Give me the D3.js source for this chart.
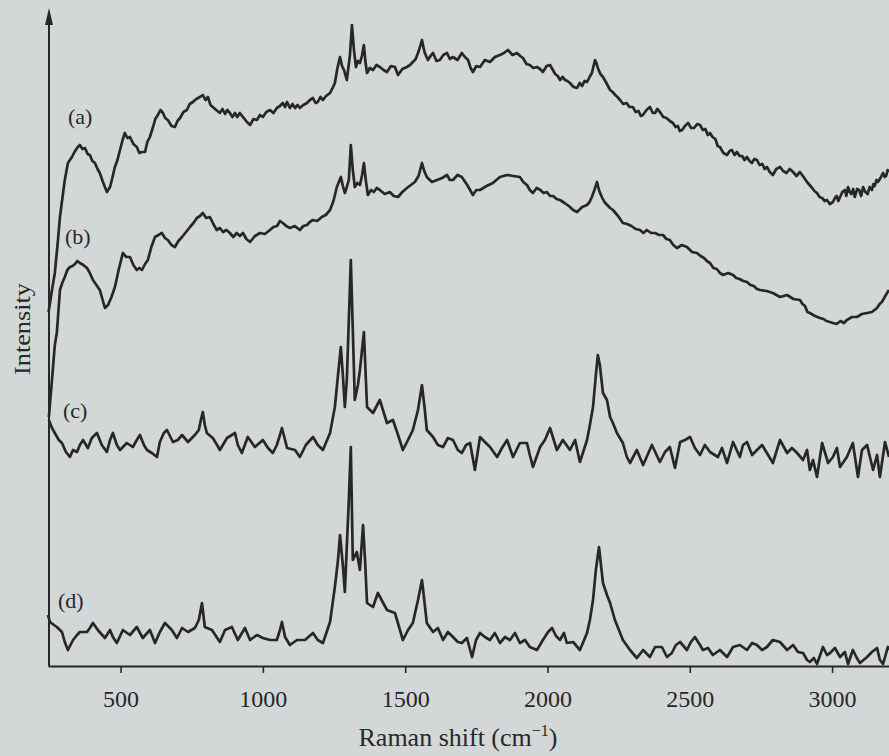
<!DOCTYPE html>
<html><head><meta charset="utf-8">
<script src="https://cdn.jsdelivr.net/npm/d3@7"></script>
<style>html,body{margin:0;padding:0;background:#d4d7d8;}svg{display:block}</style>
</head><body>
<svg id="chart" width="889" height="756"></svg>
<script>
// ---- data ----
const tickValues = [500, 1000, 1500, 2000, 2500, 3000];
const seriesLabels = ["(a)", "(b)", "(c)", "(d)"];
const xTitle = "Raman shift (cm";
const yTitle = "Intensity";

// [Raman shift (cm-1), intensity (arb. units, offset stacked)]
const specA = [[247,354],[259,376],[269,393],[280,426],[287,449],[297,471],[304,486],[315,503],[329,509],[338,514],[347,518],[357,521],[366,517],[375,518],[384,512],[392,511],[401,505],[410,503],[419,497],[427,493],[438,484],[452,474],[463,479],[471,488],[480,499],[489,506],[498,516],[507,526],[515,533],[524,528],[533,529],[545,522],[557,519],[566,513],[575,514],[586,514],[594,524],[603,529],[614,539],[622,547],[631,551],[640,556],[649,553],[657,548],[666,546],[679,540],[691,539],[700,545],[709,548],[721,554],[733,556],[743,562],[754,564],[766,567],[779,569],[789,571],[798,566],[807,569],[816,561],[824,559],[836,556],[849,553],[858,557],[867,552],[875,556],[884,553],[893,549],[902,553],[910,549],[919,553],[930,549],[944,544],[955,541],[967,547],[979,546],[990,551],[1000,549],[1012,554],[1025,556],[1037,553],[1049,558],[1060,560],[1070,563],[1078,559],[1085,564],[1095,558],[1104,562],[1113,558],[1122,561],[1130,558],[1142,561],[1155,563],[1165,566],[1176,568],[1185,563],[1193,564],[1202,569],[1211,566],[1222,570],[1236,573],[1245,578],[1253,583],[1262,598],[1271,609],[1278,600],[1285,596],[1295,586],[1306,611],[1313,641],[1320,616],[1327,599],[1334,605],[1341,603],[1348,610],[1355,621],[1360,605],[1366,593],[1376,598],[1387,596],[1399,601],[1411,599],[1424,596],[1436,594],[1450,600],[1464,599],[1475,591],[1490,597],[1506,599],[1517,601],[1527,604],[1537,607],[1545,613],[1552,619],[1559,626],[1564,619],[1569,613],[1580,606],[1589,610],[1598,613],[1610,605],[1622,606],[1634,611],[1647,613],[1657,607],[1668,609],[1684,606],[1699,613],[1710,609],[1721,606],[1730,598],[1738,594],[1750,600],[1763,599],[1780,606],[1798,604],[1815,609],[1833,611],[1847,613],[1861,616],[1877,611],[1893,613],[1904,610],[1914,608],[1926,602],[1938,601],[1950,598],[1963,599],[1974,597],[1984,594],[1997,600],[2009,601],[2027,592],[2036,590],[2044,586],[2053,589],[2062,586],[2070,585],[2079,583],[2092,579],[2104,578],[2113,583],[2122,580],[2130,585],[2139,584],[2148,589],[2156,593],[2162,600],[2167,606],[2172,603],[2177,598],[2186,592],[2195,589],[2207,583],[2220,576],[2229,574],[2238,571],[2246,569],[2255,566],[2266,562],[2278,563],[2288,559],[2300,559],[2310,554],[2320,555],[2328,550],[2335,551],[2348,556],[2360,559],[2370,553],[2378,553],[2386,557],[2395,554],[2407,549],[2418,548],[2430,545],[2441,543],[2450,539],[2458,540],[2465,535],[2473,536],[2483,540],[2494,543],[2505,538],[2515,538],[2526,542],[2536,541],[2546,536],[2555,537],[2563,531],[2571,533],[2580,529],[2590,527],[2598,520],[2606,519],[2618,513],[2631,511],[2640,515],[2648,516],[2657,511],[2666,514],[2675,510],[2684,510],[2692,506],[2701,509],[2710,505],[2718,503],[2727,507],[2736,506],[2745,501],[2755,502],[2763,497],[2771,499],[2781,494],[2792,491],[2804,497],[2817,499],[2828,495],[2840,493],[2851,497],[2863,494],[2875,490],[2887,494],[2900,489],[2912,484],[2921,481],[2930,478],[2938,475],[2947,473],[2956,469],[2965,468],[2974,465],[2982,466],[2992,462],[3003,464],[3010,468],[3016,470],[3022,465],[3028,469],[3036,474],[3045,476],[3050,470],[3056,479],[3062,474],[3068,472],[3074,477],[3080,469],[3088,477],[3095,476],[3102,470],[3109,479],[3117,474],[3125,472],[3132,479],[3140,476],[3145,482],[3150,480],[3156,486],[3161,484],[3170,488],[3179,493],[3185,489],[3190,490],[3195,496],[3200,494]];

const specB = [[248,249],[259,286],[269,321],[276,333],[287,376],[295,383],[304,389],[313,396],[322,399],[331,400],[340,402],[348,405],[357,403],[369,401],[382,398],[392,393],[403,386],[415,381],[427,376],[436,367],[445,358],[456,361],[468,369],[480,379],[494,397],[508,413],[520,409],[533,409],[545,401],[557,396],[566,398],[575,396],[586,402],[596,406],[608,419],[621,429],[633,431],[645,433],[656,428],[666,426],[679,421],[691,419],[703,425],[716,429],[730,434],[744,439],[756,443],[768,448],[779,450],[789,453],[801,448],[814,449],[826,442],[838,436],[849,438],[860,434],[872,436],[884,433],[896,429],[908,433],[919,430],[930,433],[942,427],[955,424],[972,430],[990,433],[1007,432],[1025,436],[1037,439],[1050,440],[1060,445],[1070,443],[1082,440],[1095,438],[1112,440],[1130,436],[1142,440],[1155,441],[1165,444],[1176,446],[1191,445],[1207,449],[1221,451],[1236,456],[1248,465],[1260,479],[1274,489],[1281,480],[1288,473],[1296,480],[1302,486],[1309,521],[1316,496],[1323,479],[1332,483],[1341,481],[1348,490],[1355,503],[1362,485],[1369,471],[1380,476],[1390,474],[1400,478],[1411,476],[1428,472],[1446,474],[1460,470],[1475,469],[1490,474],[1506,478],[1520,481],[1534,484],[1547,490],[1559,503],[1567,495],[1576,489],[1594,484],[1612,486],[1630,488],[1647,491],[1657,486],[1668,486],[1684,491],[1699,489],[1718,481],[1738,471],[1750,476],[1763,476],[1786,480],[1808,483],[1833,489],[1858,491],[1880,490],[1903,489],[1915,484],[1928,481],[1938,476],[1949,473],[1962,478],[1975,476],[1986,473],[1998,474],[2009,470],[2020,470],[2032,467],[2044,466],[2060,463],[2075,460],[2090,456],[2104,454],[2122,459],[2139,461],[2148,464],[2156,469],[2165,476],[2174,484],[2182,475],[2191,469],[2200,464],[2210,461],[2220,458],[2230,456],[2248,450],[2265,443],[2280,442],[2295,440],[2310,437],[2325,436],[2337,433],[2349,436],[2364,433],[2378,433],[2392,431],[2406,431],[2418,427],[2430,426],[2442,421],[2455,418],[2472,421],[2490,419],[2508,414],[2525,413],[2538,410],[2550,408],[2560,405],[2571,403],[2583,398],[2595,397],[2606,393],[2617,391],[2635,393],[2652,391],[2663,388],[2675,387],[2688,385],[2701,384],[2713,381],[2725,380],[2736,377],[2747,376],[2770,375],[2792,373],[2817,369],[2842,371],[2864,367],[2887,366],[2896,362],[2905,360],[2913,354],[2922,353],[2940,350],[2957,348],[2970,347],[2980,345],[2992,344],[3003,343],[3016,342],[3030,345],[3042,343],[3052,346],[3070,349],[3087,349],[3105,352],[3123,353],[3140,354],[3158,358],[3167,362],[3175,364],[3185,369],[3193,373],[3200,376]];

const specC = [[248,246],[259,238],[269,233],[283,226],[294,223],[308,214],[322,209],[333,216],[347,214],[357,221],[368,226],[385,218],[399,228],[417,233],[434,221],[452,214],[463,226],[473,233],[487,221],[498,216],[522,223],[543,219],[557,226],[568,231],[582,221],[593,216],[610,213],[628,209],[638,224],[652,233],[663,236],[684,224],[701,226],[716,231],[737,224],[761,231],[775,236],[782,246],[789,254],[796,241],[803,233],[824,228],[839,221],[849,216],[874,228],[902,233],[912,221],[926,213],[947,229],[972,219],[1000,226],[1018,218],[1035,213],[1049,221],[1060,231],[1067,238],[1078,226],[1085,218],[1113,216],[1130,209],[1151,221],[1176,229],[1193,221],[1211,216],[1236,233],[1253,259],[1264,291],[1274,319],[1281,291],[1288,259],[1295,286],[1302,346],[1309,406],[1316,336],[1323,266],[1334,281],[1341,296],[1355,334],[1362,286],[1366,259],[1387,253],[1411,266],[1436,243],[1457,246],[1475,231],[1492,216],[1510,226],[1527,236],[1545,256],[1559,281],[1569,256],[1576,236],[1598,229],[1615,221],[1633,219],[1650,228],[1668,226],[1685,216],[1699,213],[1714,221],[1728,223],[1745,196],[1763,229],[1780,224],[1798,219],[1823,209],[1840,218],[1858,226],[1879,209],[1903,223],[1928,223],[1938,211],[1949,199],[1974,219],[1991,226],[2009,238],[2033,216],[2054,226],[2079,216],[2097,226],[2114,204],[2139,226],[2149,241],[2160,259],[2170,291],[2177,311],[2184,301],[2195,273],[2209,266],[2220,249],[2230,243],[2244,233],[2265,223],[2279,209],[2290,203],[2314,216],[2336,201],[2367,221],[2395,204],[2413,214],[2430,219],[2448,198],[2466,224],[2483,226],[2501,229],[2518,218],[2536,211],[2553,221],[2571,214],[2599,209],[2613,218],[2631,203],[2652,224],[2676,209],[2687,221],[2701,224],[2719,211],[2736,216],[2754,221],[2771,213],[2792,203],[2817,226],[2842,213],[2859,218],[2877,213],[2898,206],[2912,216],[2922,196],[2933,206],[2947,189],[2965,223],[2986,203],[3003,209],[3017,218],[3028,199],[3052,209],[3073,223],[3091,189],[3105,216],[3123,221],[3144,196],[3158,211],[3168,189],[3186,224],[3200,209]];

const specD = [[245,51],[252,44],[266,41],[276,39],[294,34],[304,24],[315,16],[333,26],[347,31],[357,34],[382,34],[392,38],[403,43],[420,36],[445,28],[463,36],[473,29],[487,23],[508,36],[533,31],[557,39],[578,28],[603,36],[621,23],[638,34],[656,43],[680,36],[698,28],[716,38],[737,34],[761,38],[775,46],[786,63],[796,39],[821,36],[849,24],[867,36],[891,39],[912,26],[937,38],[955,26],[979,31],[1000,28],[1025,26],[1049,26],[1060,36],[1067,44],[1078,29],[1095,21],[1120,26],[1148,26],[1176,33],[1193,26],[1211,23],[1236,44],[1253,79],[1264,106],[1271,131],[1281,101],[1288,74],[1302,166],[1309,219],[1316,106],[1330,114],[1341,96],[1352,141],[1359,106],[1366,63],[1387,59],[1404,73],[1436,56],[1464,53],[1492,26],[1510,36],[1527,43],[1545,66],[1559,86],[1569,61],[1576,43],[1598,34],[1615,38],[1633,26],[1650,34],[1668,29],[1685,24],[1699,23],[1717,28],[1735,9],[1749,26],[1763,33],[1780,29],[1798,26],[1815,33],[1833,23],[1851,29],[1868,26],[1886,33],[1903,23],[1921,26],[1938,19],[1963,16],[1984,26],[2002,34],[2016,38],[2030,30],[2044,26],[2058,33],[2068,23],[2090,24],[2114,16],[2139,33],[2149,46],[2160,66],[2170,96],[2181,119],[2188,101],[2195,83],[2209,71],[2220,63],[2237,46],[2251,36],[2265,26],[2290,16],[2314,8],[2336,16],[2360,9],[2378,19],[2402,19],[2420,9],[2437,13],[2451,21],[2466,24],[2490,16],[2504,24],[2518,29],[2536,21],[2546,16],[2564,18],[2581,11],[2606,16],[2631,9],[2652,19],[2676,21],[2701,16],[2719,23],[2736,21],[2754,16],[2771,19],[2792,26],[2817,24],[2842,16],[2863,21],[2880,14],[2898,13],[2912,6],[2922,4],[2936,8],[2947,2],[2968,19],[2982,11],[2993,13],[3010,18],[3028,9],[3045,14],[3056,2],[3073,16],[3087,8],[3098,3],[3123,9],[3140,14],[3158,18],[3168,6],[3179,2],[3196,19],[3200,16]];

const allSeries = [specA, specB, specC, specD];

// ---- layout ----
const W = 889, H = 756;
const axisX = 48, axisY = 666;
const labelAnchors = [[68,124],[65,244],[63,418],[58,608]];
const ink = "#272727";
const serif = "'Liberation Serif','DejaVu Serif',serif";

const svg = d3.select("#chart");
svg.append("rect").attr("width", W).attr("height", H).attr("fill", "#d4d7d8");

const x = d3.scaleLinear().domain([245, 3200]).range([axisX, W]);
const y = d3.scaleLinear().domain([0, 656]).range([axisY, 10]);

// spectra
const line = d3.line().x(d => x(d[0])).y(d => y(d[1])).curve(d3.curveLinear);
svg.append("g").selectAll("path").data(allSeries).join("path")
  .attr("d", line)
  .attr("fill", "none")
  .attr("stroke", ink)
  .attr("stroke-width", 2.7)
  .attr("stroke-linejoin", "round");

// x axis
const xAxis = d3.axisBottom(x).tickValues(tickValues).tickFormat(d3.format("d"))
  .tickSize(7).tickPadding(17).tickSizeOuter(0);
const gx = svg.append("g").attr("transform", `translate(0,${axisY})`).call(xAxis);
gx.select(".domain").attr("stroke", ink).attr("stroke-width", 2);
gx.selectAll(".tick line").attr("stroke", ink).attr("stroke-width", 1.6);
gx.selectAll(".tick text").attr("fill", ink).attr("font-family", serif).attr("font-size", 24);

// y axis with arrow
svg.append("line").attr("x1", axisX + 1).attr("x2", axisX + 1).attr("y1", axisY).attr("y2", 20)
  .attr("stroke", ink).attr("stroke-width", 2);
svg.append("path").attr("d", `M${axisX+1},8 L${axisX-3},25 L${axisX+5},25 Z`).attr("fill", ink);

// titles
const xt = svg.append("text").attr("x", 458).attr("y", 746).attr("text-anchor", "middle")
  .attr("font-family", serif).attr("font-size", 26).attr("fill", ink);
xt.append("tspan").text(xTitle);
xt.append("tspan").attr("dy", -10).attr("font-size", 16).text("\u22121");
xt.append("tspan").attr("dy", 10).text(")");

svg.append("text").attr("transform", "translate(30,329) rotate(-90)").attr("text-anchor", "middle")
  .attr("font-family", serif).attr("font-size", 23).attr("fill", ink)
  .attr("textLength", 92).attr("lengthAdjust", "spacingAndGlyphs").text(yTitle);

// series labels
svg.append("g").selectAll("text").data(seriesLabels).join("text")
  .attr("x", (d, i) => labelAnchors[i][0]).attr("y", (d, i) => labelAnchors[i][1])
  .attr("font-family", serif).attr("font-size", 22).attr("fill", ink).text(d => d);
</script>
</body></html>
